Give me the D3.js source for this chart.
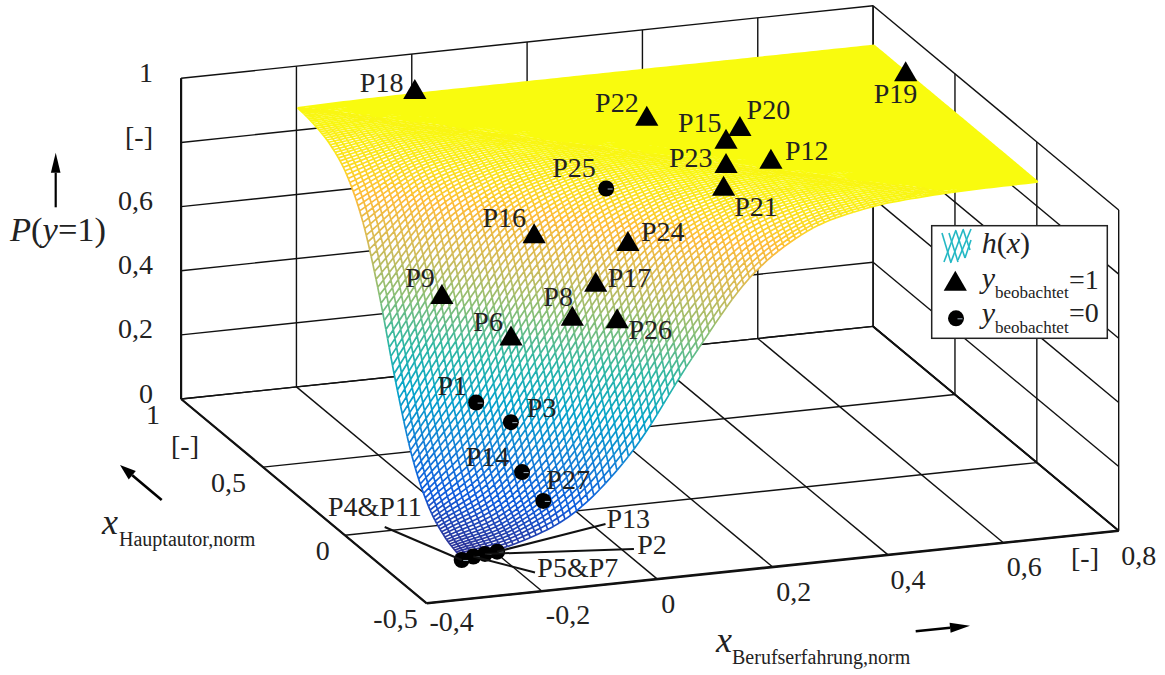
<!DOCTYPE html>
<html lang="en">
<head>
<meta charset="utf-8">
<title>P(y=1) surface</title>
<script src="https://cdn.jsdelivr.net/npm/d3@7"></script>
<style>
  body{margin:0;background:#fff;}
  svg{display:block;}
  text{font-family:"Liberation Serif",serif;fill:#222;}
  .it{font-style:italic;}
</style>
</head>
<body>
<div id="chart"></div>
<script>
// axis ticks
var xTicks = [-0.4,-0.2,0,0.2,0.4,0.6,0.8]
var xTickLabels = ["-0,4","-0,2","0","0,2","0,4","0,6","0,8"]
var yTicks = [-0.5,0,0.5,1]
var yTickLabels = ["-0,5","0","0,5","1"]
var zTicks = [0,0.2,0.4,0.6,0.8,1]
var zTickLabels = ["0","0,2","0,4","0,6","[-]","1"]

// surface h(x) on a coarse table (rows: y, columns: x)
var surfX = [-0.272,-0.172,-0.072,0.028,0.128,0.228,0.328,0.428,0.528,0.628,0.728]
var surfY = [-0.26,-0.16,-0.06,0.04,0.14,0.24,0.34,0.44,0.54,0.64,0.74]
var surfZ = [
  [.0155,.0452,.1246,.2994,.5622,.7941,.9206,.9721,.9905,.9968,.9989],
  [.0384,.1072,.2650,.5200,.7649,.9072,.9670,.9888,.9962,.9987,.9996],
  [.0920,.2333,.4775,.7330,.8918,.9612,.9868,.9955,.9985,.9995,.9998],
  [.2042,.4354,.6985,.8744,.9543,.9843,.9947,.9982,.9994,.9998,.9999],
  [.3941,.6615,.8545,.9463,.9815,.9938,.9979,.9993,.9998,.9999,1],
  [.6225,.8320,.9370,.9781,.9926,.9975,.9992,.9997,.9999,1,1],
  [.8069,.9262,.9742,.9913,.9971,.9990,.9997,.9999,1,1,1],
  [.9137,.9695,.9896,.9965,.9988,.9996,.9999,1,1,1,1],
  [.9641,.9878,.9959,.9986,.9995,.9998,1,1,1,1,1],
  [.9855,.9951,.9984,.9995,.9998,.9999,1,1,1,1,1],
  [.9942,.9981,.9994,.9998,.9999,1,1,1,1,1,1]
]

// observed points, y=1 (triangles)
var triNames = ["P18","P19","P20","P15","P23","P12","P21","P22","P24","P16","P17","P9","P8","P26","P6"]
var triX = [-0.060,0.729,0.372,0.328,0.286,0.361,0.250,0.248,0.079,-0.045,0.022,-0.188,-0.020,0.039,-0.107]
var triY = [0.770,0.551,0.306,0.236,0.088,0.078,-0.024,0.438,-0.042,0.094,-0.046,0.154,-0.051,-0.117,0.017]
var triZ = [1,1,1,0.999,0.994,0.997,0.977,1,0.845,0.835,0.73,0.647,0.634,0.643,0.56]

// observed points, y=0 (circles)
var circNames = ["P25","P1","P3","P14","P27","P13","P2","P5&P7","P4&P11"]
var circX = [0.079,-0.172,-0.128,-0.129,-0.114,-0.212,-0.232,-0.253,-0.276]
var circY = [0.091,0.001,-0.056,-0.128,-0.205,-0.268,-0.264,-0.267,-0.277]
var circZ = [0.952,0.37,0.325,0.2,0.14,0.027,0.022,0.019,0.017]

var parula = ["#352a87","#0f5cdd","#1481d6","#06a4ca","#2eb7a4","#87bf77","#d1bb59","#fdbb3a","#f9fb0e"]

// layout, not data
var triLabelOffset = [[-55,3],[-32,31.4],[6.7,-7],[-48,-7],[-57,3.7],[14,1],[10.6,30],[-51.7,-4.1],[13,-0.3],[-51.7,-6.6],[12,4.7],[-36.7,-6.7],[-29,-10.3],[11.3,20.8],[-37.7,-4.7]]
var circLabelOffset = [[-54,-11.7],[-38.7,-7.7],[16,-5.6],[-56.3,-6.3],[3,-11.7],[109.4,-23.4],[152.3,0.3],[64,20.6],[-133.7,-44]]
var leaderEnds = {"P13":[108.4,-27.7],"P2":[149,-5],"P5&P7":[61.7,16],"P4&P11":[-77,-33]}
var xLabelOffset = [[25,28],[26,33],[11,33.7],[21,34],[20,34],[21,33],[20,34]]
var yLabelDx = [-9,-15,-17,-21]
var meshN = 100
var fontSize = 28

var width = 1165, height = 675
var svg = d3.select("#chart").append("svg").attr("width",width).attr("height",height)

// the view is oblique: each data axis runs along its own screen vector
var origin = [426.7,603.3]
var xEnd = [692,-72.6]
var yEnd = [-245.6,-204.3]
var zEnd = [0,-320.7]
var xScale = d3.scaleLinear().domain([-0.4,0.8]).range([0,1])
var yScale = d3.scaleLinear().domain([-0.5,1]).range([0,1])
var zScale = d3.scaleLinear().domain([0,1]).range([0,1])

function project(x,y,z){
  var a = xScale(x), b = yScale(y), c = zScale(z)
  return [origin[0]+a*xEnd[0]+b*yEnd[0]+c*zEnd[0], origin[1]+a*xEnd[1]+b*yEnd[1]+c*zEnd[1]]
}

function drawLine(g,p,q,w){
  g.append("line")
    .attr("x1",p[0]).attr("y1",p[1]).attr("x2",q[0]).attr("y2",q[1])
    .attr("stroke","#111").attr("stroke-width",w)
}

// box
var box = svg.append("g")
var x0 = -0.4, x1 = 0.8, y0 = -0.5, y1 = 1
xTicks.forEach(function(x){
  drawLine(box,project(x,y0,0),project(x,y1,0),1.4)
  drawLine(box,project(x,y1,0),project(x,y1,1),1.4)
})
yTicks.forEach(function(y){
  drawLine(box,project(x0,y,0),project(x1,y,0),1.4)
  drawLine(box,project(x1,y,0),project(x1,y,1),1.4)
})
zTicks.forEach(function(z){
  drawLine(box,project(x0,y1,z),project(x1,y1,z),1.4)
  drawLine(box,project(x1,y1,z),project(x1,y0,z),1.4)
})
drawLine(box,project(x0,y0,0),project(x1,y0,0),2.6)
drawLine(box,project(x0,y0,0),project(x0,y1,0),2.2)
drawLine(box,project(x1,y0,0),project(x1,y1,0),2)
drawLine(box,project(x0,y1,0),project(x0,y1,1),2.2)

// smooth lookup in the surface table
function spline(a,b,c,d,t){
  return b+0.5*t*(c-a+t*(2*a-5*b+4*c-d+t*(3*(b-c)+d-a)))
}
function pick(arr,i){
  var n = arr.length
  if(i<0) return 2*arr[0]-arr[1]
  if(i>=n) return 2*arr[n-1]-arr[n-2]
  return arr[i]
}
function surfAt(u,v){
  var i = Math.min(Math.floor(u),surfX.length-2), j = Math.min(Math.floor(v),surfY.length-2)
  var col = [-1,0,1,2].map(function(k){
    var row
    if(j+k<0){
      row = surfZ[0].map(function(d,n){return 2*d-surfZ[1][n]})
    }else{
      row = surfZ[Math.min(j+k,surfY.length-1)]
    }
    return spline(pick(row,i-1),pick(row,i),pick(row,i+1),pick(row,i+2),u-i)
  })
  return Math.max(0,Math.min(1,spline(col[0],col[1],col[2],col[3],v-j)))
}

var uScale = d3.scaleLinear().domain([0,surfX.length-1]).range([surfX[0],surfX[surfX.length-1]])
var vScale = d3.scaleLinear().domain([0,surfY.length-1]).range([surfY[0],surfY[surfY.length-1]])
var stepU = (surfX.length-1)/meshN, stepV = (surfY.length-1)/meshN
var mesh = d3.range(meshN+1).map(function(j){
  return d3.range(meshN+1).map(function(i){
    var z = surfAt(i*stepU,j*stepV)
    var p = project(uScale(i*stepU),vScale(j*stepV),z)
    return [p[0],p[1],z]
  })
})

// white sheet below the mesh hides the box behind it
var outline = []
d3.range(meshN+1).forEach(function(i){outline.push(mesh[0][i])})
d3.range(meshN+1).forEach(function(j){outline.push(mesh[j][meshN])})
d3.range(meshN,-1,-1).forEach(function(i){outline.push(mesh[meshN][i])})
d3.range(meshN,-1,-1).forEach(function(j){outline.push(mesh[j][0])})
svg.append("path").attr("d",d3.line()(outline)).attr("fill","#fff")

// mesh segments, one path per colour step
var colour = d3.scaleLinear().domain(d3.range(parula.length).map(function(d){return d/(parula.length-1)})).range(parula)
var levels = 96
var buckets = d3.range(levels+1).map(function(){return d3.path()})
function addSeg(a,b){
  var k = Math.round((a[2]+b[2])/2*levels)
  buckets[k].moveTo(a[0],a[1])
  buckets[k].lineTo(b[0],b[1])
}
for(var j=0;j<=meshN;j++){
  for(var i=0;i<=meshN;i++){
    if(i<meshN) addSeg(mesh[j][i],mesh[j][i+1])
    if(j<meshN) addSeg(mesh[j][i],mesh[j+1][i])
  }
}
svg.append("g").attr("fill","none").attr("stroke-width",1.7)
  .selectAll("path").data(buckets).enter().append("path")
  .attr("d",function(d){return d.toString()})
  .attr("stroke",function(d,i){return colour(i/levels)})

// markers
var triPath = "M0,-10L11.6,10L-11.6,10Z"
function drawCircle(g,p){
  g.append("circle").attr("cx",p[0]).attr("cy",p[1]).attr("r",8).attr("fill","#000")
  g.append("line").attr("x1",p[0]+1.5).attr("y1",p[1]+0.5).attr("x2",p[0]+6.5).attr("y2",p[1]+0.5)
    .attr("stroke","#cde").attr("stroke-width",0.8)
}

var marks = svg.append("g")
var leaders = svg.append("g")
circNames.forEach(function(name,i){
  var p = project(circX[i],circY[i],circZ[i])
  drawCircle(marks,p)
  if(leaderEnds[name]){
    var e = leaderEnds[name]
    drawLine(leaders,p,[p[0]+e[0],p[1]+e[1]],2)
  }
})
triNames.forEach(function(name,i){
  var p = project(triX[i],triY[i],triZ[i])
  marks.append("path").attr("d",triPath).attr("transform","translate("+p[0]+","+p[1]+")").attr("fill","#000")
})

function label(str,x,y,anchor,size){
  return svg.append("text").attr("x",x).attr("y",y).attr("text-anchor",anchor||"start")
    .attr("font-size",size||fontSize).text(str)
}
triNames.forEach(function(name,i){
  var p = project(triX[i],triY[i],triZ[i])
  label(name,p[0]+triLabelOffset[i][0],p[1]+triLabelOffset[i][1])
})
circNames.forEach(function(name,i){
  var p = project(circX[i],circY[i],circZ[i])
  label(name,p[0]+circLabelOffset[i][0],p[1]+circLabelOffset[i][1])
})

// tick labels
zTicks.forEach(function(z,i){
  var p = project(x0,y1,z)
  label(zTickLabels[i],153,p[1]+3.6,"end")
})
xTicks.forEach(function(x,i){
  var p = project(x,y0,0)
  label(xTickLabels[i],p[0]+xLabelOffset[i][0],p[1]+xLabelOffset[i][1],"middle")
})
yTicks.forEach(function(y,i){
  var p = project(x0,y,0)
  label(yTickLabels[i],p[0]+yLabelDx[i],p[1]+24.5,"end")
})
label("[-]",1071,567)
label("[-]",171,455)

// axis titles
function subTitle(str,size,sub,x,y,subX,subY,subSize){
  svg.append("text").attr("class","it").attr("x",x).attr("y",y).attr("font-size",size).text(str)
  svg.append("text").attr("x",subX).attr("y",subY).attr("font-size",subSize).text(sub)
}
subTitle("x",36,"Hauptautor,norm",102,534,119,546,20)
subTitle("x",36,"Berufserfahrung,norm",716,652,732,664,20)

var pTitle = svg.append("text").attr("x",10).attr("y",241).attr("font-size",34.5)
pTitle.append("tspan").attr("class","it").text("P")
pTitle.append("tspan").text("(")
pTitle.append("tspan").attr("class","it").text("y")
pTitle.append("tspan").text("=1)")

function arrow(x1,y1,x2,y2,len,w,sw){
  var a = Math.atan2(y2-y1,x2-x1)
  var bx = x2-len*Math.cos(a), by = y2-len*Math.sin(a)
  var nx = -Math.sin(a)*w/2, ny = Math.cos(a)*w/2
  svg.append("line").attr("x1",x1).attr("y1",y1).attr("x2",bx).attr("y2",by).attr("stroke","#000").attr("stroke-width",sw)
  svg.append("path").attr("fill","#000")
    .attr("d","M"+x2+","+y2+"L"+(bx+nx)+","+(by+ny)+"L"+(bx-nx)+","+(by-ny)+"Z")
}
arrow(55.7,207.3,55.7,152.7,20,9.6,2.2)
arrow(161.7,500,120,465,16,11,2.6)
arrow(915.7,631.3,970,625.7,20,10,2.6)

// legend
var lg = svg.append("g")
lg.append("rect").attr("x",931.7).attr("y",225.7).attr("width",175.6).attr("height",112.6)
  .attr("fill","#fff").attr("stroke","#222").attr("stroke-width",1.5)
var hatch = [[944,262,956,230],[951,262,963,230],[958,260,971,229],[965,258,971,240],
             [942,233,951,263],[949,233,958,262],[956,231,965,258],[963,229,970,250]]
hatch.forEach(function(h){
  lg.append("line").attr("x1",h[0]).attr("y1",h[1]).attr("x2",h[2]).attr("y2",h[3])
    .attr("stroke","#24b8c4").attr("stroke-width",1.6)
})
lg.append("path").attr("d",triPath).attr("transform","translate(955.3,280.7)").attr("fill","#000")
drawCircle(lg,[956,318.3])

var hx = svg.append("text").attr("x",981.7).attr("y",253.3).attr("font-size",30)
hx.append("tspan").attr("class","it").text("h")
hx.append("tspan").text("(")
hx.append("tspan").attr("class","it").text("x")
hx.append("tspan").text(")")

subTitle("y",30,"beobachtet",981.7,288,995,298.3,17)
subTitle("y",30,"beobachtet",981.7,323,995,332.7,17)
label("=1",1069,289)
label("=0",1069,322)
</script>
</body>
</html>
